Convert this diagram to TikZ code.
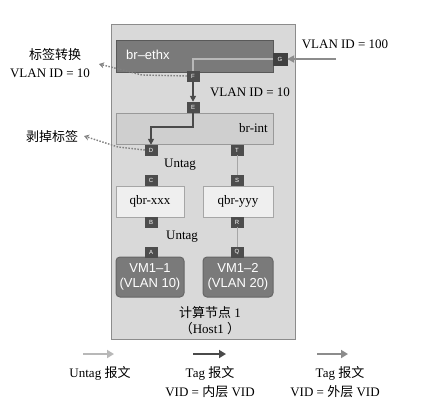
\documentclass[tikz,border=0pt]{standalone}
\usepackage{fontspec}
\setmainfont{Liberation Serif}
\setsansfont{Liberation Sans}
\newfontfamily\cjk{Noto Sans CJK SC}
\usetikzlibrary{arrows.meta}
\definecolor{hostfill}{HTML}{D9D9D9}
\definecolor{hostline}{HTML}{8C8C8C}
\definecolor{ethfill}{HTML}{7A7A7A}
\definecolor{intfill}{HTML}{CFCFCF}
\definecolor{qbrfill}{HTML}{EFEFEF}
\definecolor{portfill}{HTML}{4D4D4D}
\definecolor{darkarrow}{HTML}{4A4A4A}
\definecolor{midarrow}{HTML}{8C8C8C}
\definecolor{lightarrow}{HTML}{B8B8B8}
\tikzset{
  box/.style={draw=#1, line width=1pt, inner sep=0pt, outer sep=0pt},
  port/.style={fill=portfill, draw=portfill, minimum width=12pt, minimum height=10pt, inner sep=0pt,
     text=white, font=\sffamily\fontsize{6}{6}\selectfont},
  lbl/.style={font=\fontsize{13}{15}\selectfont, inner sep=0pt},
  vm/.style={draw=black!60, fill=ethfill, rounded corners=4pt, line width=1pt, text=white,
     font=\sffamily\fontsize{13}{15}\selectfont, align=center, inner sep=0pt},
  flowdark/.style={draw=darkarrow, line width=1.6pt, -{Triangle[length=6pt,width=6pt]}},
  dotarrow/.style={draw=black!50, line width=1.4pt, dash pattern=on 1.5pt off 1.5pt, -{Stealth[length=5pt,width=6pt,open]}},
  legarrow/.style={line width=2.2pt, -{Triangle[length=7pt,width=8pt]}},
}
\begin{document}
\begin{tikzpicture}[x=1pt,y=-1pt]
\useasboundingbox (0,0) rectangle (431,416);
\fill[white] (0,0) rectangle (431,416);
% host
\node[box=hostline, fill=hostfill, minimum width=184pt, minimum height=315pt] (host) at (203,181.5) {};
% bridges
\node[box=black!65, fill=ethfill, minimum width=157pt, minimum height=32pt] (ethx) at (194.5,56) {};
\node[anchor=west, text=white, font=\sffamily\fontsize{13}{15}\selectfont, inner sep=0pt] (ethxl) at (126,55) {br--ethx};
\node[box=black!40, fill=intfill, minimum width=157pt, minimum height=31pt] (int) at (194.5,128.5) {};
\node[lbl, anchor=east] (intl) at (268,128) {br-int};
\node[box=black!35, fill=qbrfill, minimum width=68pt, minimum height=31pt, lbl] (qx) at (150,201.5) {qbr-xxx};
\node[box=black!35, fill=qbrfill, minimum width=70pt, minimum height=31pt, lbl] (qy) at (238,201.5) {qbr-yyy};
\node[vm, minimum width=68pt, minimum height=40pt] (vm1) at (150,277) {VM1--1\\(VLAN 10)};
\node[vm, minimum width=70pt, minimum height=40pt] (vm2) at (238,277) {VM1--2\\(VLAN 20)};
% ports
\node[port, fill=black!75, draw=black!75, minimum width=14pt, minimum height=12pt] (G) at (280,59) {G};
\node[port] (F) at (193,76) {F};
\node[port] (E) at (193,107) {E};
\node[port] (D) at (151,150) {D};
\node[port] (T) at (237,150) {T};
\node[port] (C) at (151,180) {C};
\node[port] (S) at (237,180) {S};
\node[port] (B) at (151,222) {B};
\node[port] (R) at (237,222) {R};
\node[port] (A) at (151,252) {A};
\node[port] (Q) at (237,252) {Q};
% host label
\node[lbl] (hl1) at (210,313) {{\cjk 计算节点} 1};
\node[lbl] (hl2) at (210,329) {{\cjk （}Host1 {\cjk ）}};
% connections
\draw[black!35, line width=1pt] (T) -- (S);
\draw[black!35, line width=1pt] (R) -- (Q);
\coordinate (gin) at (336,59);
\draw[midarrow, line width=2pt, -{Triangle[length=7pt,width=7pt]}] (gin) -- (G.east);
\coordinate (bend1) at (193,59);
\draw[lightarrow, line width=1.6pt] (G.west) -- (bend1) -- (F.north);
\draw[flowdark] (F.south) -- (E.north);
\coordinate (bend2) at (193,127);
\coordinate (bend3) at (151,127);
\draw[flowdark] (E.south) -- (bend2) -- (bend3) -- (D.north);
% dotted arrows
\coordinate (fd1) at (142,75);
\coordinate (fd2) at (99,64);
\draw[dotarrow] (F.west) -- (fd1) -- (fd2);
\coordinate (dd1) at (118,147);
\coordinate (dd2) at (84,136);
\draw[dotarrow] (D.west) -- (dd1) -- (dd2);
% labels
\node[lbl] (l1) at (55,55) {\cjk 标签转换};
\node[lbl] (l2) at (50,73) {VLAN ID = 10};
\node[lbl] (l3) at (52,137) {\cjk 剥掉标签};
\node[lbl] (l4) at (345,44) {VLAN ID = 100};
\node[lbl] (l5) at (250,92) {VLAN ID = 10};
\node[lbl] (u1) at (180,165) {Untag};
\node[lbl] (u2) at (182,237) {Untag};
% legend
\coordinate (a1s) at (83,354); \coordinate (a1e) at (114,354);
\coordinate (a2s) at (193,354); \coordinate (a2e) at (226,354);
\coordinate (a3s) at (317,354); \coordinate (a3e) at (348,354);
\draw[legarrow, lightarrow] (a1s) -- (a1e);
\draw[legarrow, darkarrow] (a2s) -- (a2e);
\draw[legarrow, midarrow] (a3s) -- (a3e);
\node[lbl] (t1) at (100,373) {Untag {\cjk 报文}};
\node[lbl] (t2) at (210,373) {Tag {\cjk 报文}};
\node[lbl] (t3) at (210,392) {VID = {\cjk 内层} VID};
\node[lbl] (t4) at (340,373) {Tag {\cjk 报文}};
\node[lbl] (t5) at (335,392) {VID = {\cjk 外层} VID};
\end{tikzpicture}
\end{document}
